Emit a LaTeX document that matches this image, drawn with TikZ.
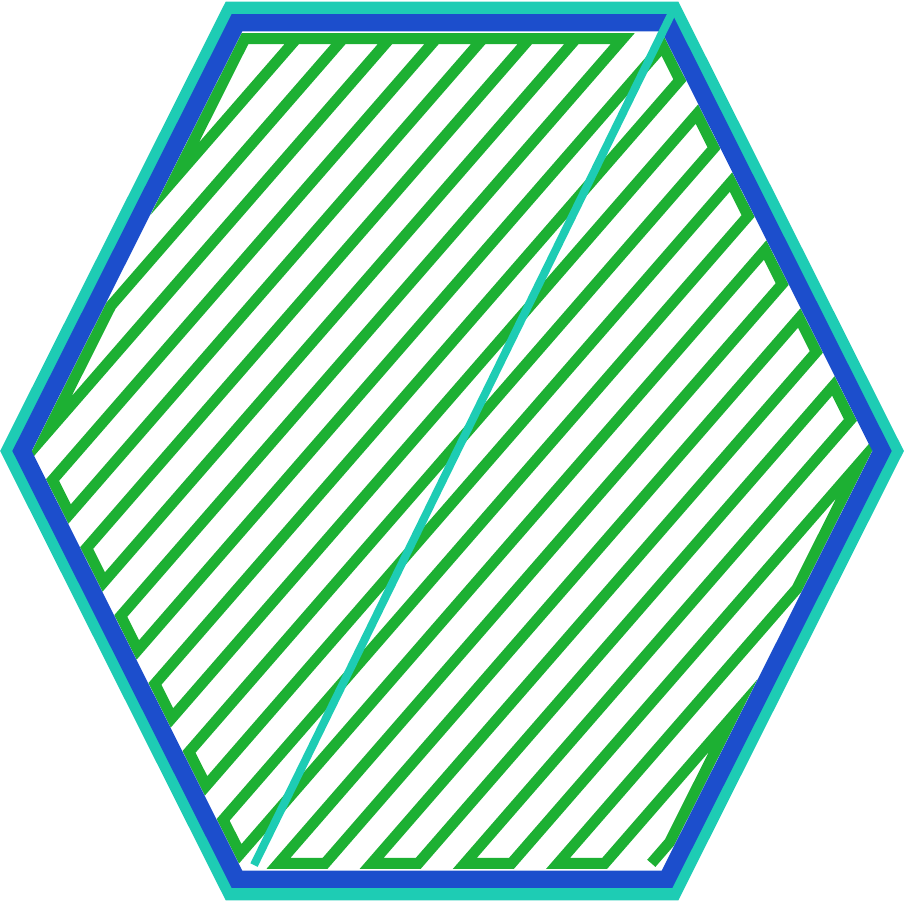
\documentclass[tikz,border=0pt]{standalone}
\usepackage{tikz}
\usetikzlibrary{calc}
\definecolor{Teal}{HTML}{1ECCB4}
\definecolor{Royal}{HTML}{1C4ECC}
\definecolor{Leaf}{HTML}{1DB033}

\begin{document}
\begin{tikzpicture}[
  x=0.01cm,y=0.01cm,
  outer/.style={draw=Teal,line width=4pt},
  inner/.style={draw=Royal,line width=4.9pt},
  infill/.style={draw=Leaf,line width=3.1pt},
  travel/.style={draw=Teal,line width=2.3pt}
]
  \useasboundingbox (0,0) rectangle (904,904);
  \begin{scope}[shift={(452,453)},yscale=1.15]
    \foreach \k in {0,...,5}{
      \coordinate (o\k) at (\k*60:444);
      \coordinate (i\k) at (\k*60:430);
      \coordinate (g\k) at (\k*60:414);
    }
    \foreach \n in {0,...,23}{
      \pgfmathsetmacro\t{-48+46.6*(\n-10)}
      \pgfmathsetmacro\vu{min(358.5,(414-\t)/565.5*358.5,(414-\t)/151.5*358.5)}
      \pgfmathsetmacro\vl{max(-358.5,-(414+\t)/565.5*358.5,-(414+\t)/151.5*358.5)}
      \coordinate (ur\n) at ({\vu+(\t)},\vu);
      \coordinate (ll\n) at ({\vl+(\t)},\vl);
    }
    \coordinate (land) at (-198,-360);
    \draw[infill] (ur7) -- (g2)
      \foreach \n [evaluate=\n as \m using {int(\n+1)}] in {0,2,...,22}{
        -- (ll\n) -- (ur\n) -- (ur\m) -- (ll\m)
      };
    \draw[outer] (o0) -- (o1) -- (o2) -- (o3) -- (o4) -- (o5) -- cycle;
    \draw[inner] (i0) -- (i1) -- (i2) -- (i3) -- (i4) -- (i5) -- cycle;
    \draw[travel] (o1) -- (land);
  \end{scope}
\end{tikzpicture}
\end{document}
